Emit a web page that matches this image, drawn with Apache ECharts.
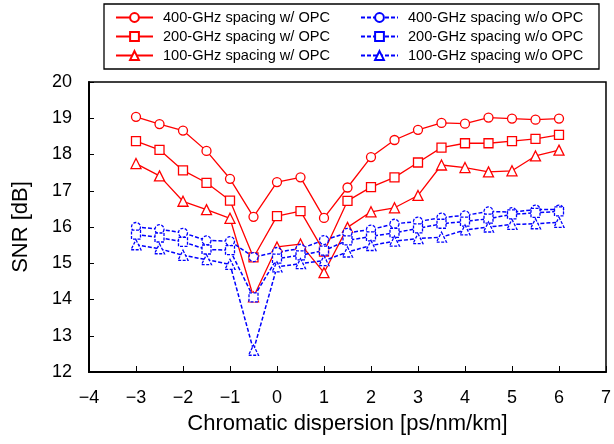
<!DOCTYPE html>
<html>
<head>
<meta charset="utf-8">
<script src="https://cdn.jsdelivr.net/npm/echarts@6/dist/echarts.min.js"></script>
<style>
html,body{margin:0;padding:0;background:#fff;}
#chart{width:614px;height:444px;}
</style>
</head>
<body>
<div id="chart"></div>
<script>
const dispersion = [-3,-2.5,-2,-1.5,-1,-0.5,0,0.5,1,1.5,2,2.5,3,3.5,4,4.5,5,5.5,6];
const opc400 = [19.04,18.84,18.66,18.10,17.33,16.28,17.24,17.37,16.25,17.09,17.93,18.40,18.68,18.87,18.85,19.02,18.99,18.96,18.99];
const opc200 = [18.37,18.13,17.56,17.22,16.73,15.16,16.30,16.44,15.32,16.72,17.10,17.37,17.78,18.19,18.31,18.31,18.37,18.43,18.54];
const opc100 = [17.75,17.41,16.71,16.48,16.24,14.07,15.45,15.53,14.74,15.99,16.42,16.53,16.87,17.71,17.64,17.52,17.55,17.96,18.12];
const noOpc400 = [16.00,15.94,15.84,15.63,15.61,15.17,15.31,15.40,15.64,15.84,15.93,16.09,16.15,16.26,16.32,16.43,16.41,16.48,16.48];
const noOpc200 = [15.79,15.71,15.59,15.38,15.36,14.06,15.13,15.22,15.35,15.63,15.74,15.84,15.96,16.09,16.15,16.23,16.35,16.39,16.43];
const noOpc100 = [15.51,15.40,15.22,15.10,14.97,12.60,14.90,14.99,15.07,15.31,15.49,15.61,15.68,15.72,15.92,16.00,16.07,16.09,16.13];
const seriesNames = ['400-GHz spacing w/ OPC','200-GHz spacing w/ OPC','100-GHz spacing w/ OPC',
                     '400-GHz spacing w/o OPC','200-GHz spacing w/o OPC','100-GHz spacing w/o OPC'];
const xTitle = 'Chromatic dispersion [ps/nm/km]';
const yTitle = 'SNR [dB]';

const FONT = '"Liberation Sans", Arial, sans-serif';
const RED = '#ff0000', BLUE = '#0000ff';
function pairs(ys){ return dispersion.map((x,i)=>[x, ys[i]]); }
function mk(name, ys, color, symbol, dashed){
  return {
    name: name, type: 'line', data: pairs(ys),
    symbol: symbol, symbolSize: symbol === 'triangle' ? 10 : 9,
    lineStyle: {color: color, width: dashed ? 1.5 : 1.3, type: dashed ? [4,2] : 'solid'},
    itemStyle: {color: '#fff', borderColor: color, borderWidth: 1.3, borderType: dashed ? [3,1.5] : 'solid'},
    emphasis: {disabled: true},
    animation: false
  };
}
const fmt = v => v < 0 ? '\u2212' + Math.abs(v) : String(v);

const chart = echarts.init(document.getElementById('chart'));
const legendCommon = {
  orient: 'vertical', top: 10, padding: 0, itemWidth: 37, itemHeight: 11, itemGap: 4,
  textStyle: {fontFamily: FONT, fontSize: 14.6, color: '#000', lineHeight: 14, padding: [0,0,0,5]},
  selectedMode: false
};
chart.setOption({
  animation: false,
  backgroundColor: '#fff',
  grid: {left: 89, right: 8, top: 82, bottom: 72, show: true, borderColor: '#000', borderWidth: 1.5},
  legend: [
    Object.assign({left: 115, data: seriesNames.slice(0,3)}, legendCommon),
    Object.assign({left: 360, data: seriesNames.slice(3)}, legendCommon)
  ],
  graphic: [{type: 'rect', shape: {x: 104, y: 4, width: 495, height: 65}, style: {fill: 'none', stroke: '#000', lineWidth: 1.3}, silent: true}],
  xAxis: {
    type: 'value', min: -4, max: 7, interval: 1,
    name: xTitle, nameLocation: 'middle', nameGap: 41,
    nameTextStyle: {fontFamily: FONT, fontSize: 22, color: '#000'},
    axisLine: {onZero: false, lineStyle: {color: '#000', width: 2}},
    axisTick: {inside: true, length: 6, lineStyle: {color: '#000', width: 1}},
    axisLabel: {formatter: fmt, fontFamily: FONT, fontSize: 18, color: '#000', margin: 17},
    splitLine: {show: false}
  },
  yAxis: {
    type: 'value', min: 12, max: 20, interval: 1,
    name: yTitle, nameLocation: 'middle', nameGap: 57, nameRotate: 90,
    nameTextStyle: {fontFamily: FONT, fontSize: 22, color: '#000'},
    axisLine: {show: true, onZero: false, lineStyle: {color: '#000', width: 2}},
    axisTick: {show: true, inside: true, length: 5, lineStyle: {color: '#000', width: 1}},
    axisLabel: {formatter: fmt, fontFamily: FONT, fontSize: 18, color: '#000', margin: 17},
    splitLine: {show: false}
  },
  series: [
    mk(seriesNames[0], opc400, RED, 'circle', false),
    mk(seriesNames[1], opc200, RED, 'rect', false),
    mk(seriesNames[2], opc100, RED, 'triangle', false),
    mk(seriesNames[3], noOpc400, BLUE, 'circle', true),
    mk(seriesNames[4], noOpc200, BLUE, 'rect', true),
    mk(seriesNames[5], noOpc100, BLUE, 'triangle', true)
  ]
});
</script>
</body>
</html>
